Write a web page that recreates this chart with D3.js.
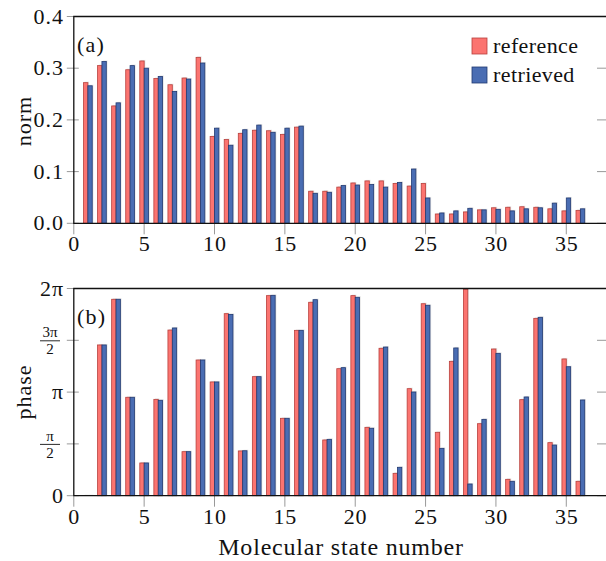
<!DOCTYPE html>
<html>
<head>
<meta charset="utf-8">
<script src="https://cdnjs.cloudflare.com/ajax/libs/d3/7.8.5/d3.min.js"></script>
<style>
  body { margin: 0; background: #fff; }
</style>
</head>
<body>
<div id="chart"></div>
<script>
// molecular state numbers 1..36
const states = d3.range(1, 37)

// panel (a): norm
const normRef = [0.272, 0.305, 0.227, 0.297, 0.314, 0.280, 0.268, 0.281, 0.321, 0.168,
  0.162, 0.174, 0.180, 0.179, 0.172, 0.186, 0.062, 0.062, 0.070, 0.078,
  0.082, 0.082, 0.077, 0.072, 0.077, 0.018, 0.018, 0.022, 0.026, 0.030,
  0.031, 0.032, 0.031, 0.028, 0.024, 0.025]
const normRet = [0.266, 0.313, 0.233, 0.305, 0.300, 0.284, 0.255, 0.279, 0.310, 0.184,
  0.151, 0.181, 0.190, 0.176, 0.184, 0.188, 0.058, 0.060, 0.073, 0.074,
  0.075, 0.070, 0.079, 0.105, 0.049, 0.020, 0.024, 0.029, 0.026, 0.027,
  0.024, 0.028, 0.030, 0.039, 0.049, 0.028]

// panel (b): phase, in units of pi
const phaseRef = [0, 1.455, 1.896, 0.950, 0.316, 0.930, 1.599, 0.425, 1.310, 1.098,
  1.757, 0.432, 1.149, 1.931, 0.747, 1.596, 1.867, 0.538, 1.226, 1.931,
  0.660, 1.423, 0.216, 1.033, 1.853, 0.612, 1.297, 1.990, 0.695, 1.416,
  0.158, 0.927, 1.712, 0.512, 1.320, 0.139]
const phaseRet = [0, 1.455, 1.896, 0.950, 0.316, 0.921, 1.619, 0.425, 1.310, 1.098,
  1.750, 0.434, 1.149, 1.934, 0.747, 1.596, 1.892, 0.544, 1.236, 1.915,
  0.651, 1.435, 0.274, 1.001, 1.838, 0.457, 1.426, 0.113, 0.737, 1.374,
  0.139, 0.953, 1.722, 0.489, 1.245, 0.924]

const xTicks = [0, 5, 10, 15, 20, 25, 30, 35]
const normTicks = [0, 0.1, 0.2, 0.3, 0.4]
const phaseTicks = [0, 0.5, 1, 1.5, 2]
const seriesNames = ["reference", "retrieved"]

const width = 606
const height = 561
const serif = "'Liberation Serif', 'DejaVu Serif', serif"
const colors = { fill: ["#fb7470", "#4a6db3"], stroke: ["#b8403c", "#223a72"] }

const svg = d3.select("#chart").append("svg")
  .attr("width", width)
  .attr("height", height)
  .style("font-family", serif)

const x = d3.scaleLinear().domain([0, 38]).range([73.8, 608.5])
const yNorm = d3.scaleLinear().domain([0, 0.4]).range([223.3, 16.5])
const yPhase = d3.scaleLinear().domain([0, 2]).range([495.7, 288.5])

const barW = x(0.31) - x(0)

// small helper so every label gets the serif font
// (the original is Computer Modern, which runs wider, hence the spacing)
function label(g, txt, size, spacing) {
  return g.append("text").attr("font-family", serif).attr("fill", "#111")
    .style("font-size", size + "px")
    .style("letter-spacing", (spacing || 0) + "px")
    .text(txt)
}

// draws one panel: frame, ticks, bars
function drawPanel(y, ref, ret, yTickVals, yTickFmt, tag, yTitle, titleY) {
  const g = svg.append("g")
  const top = y.range()[1], bottom = y.range()[0]

  // gray ticks
  g.selectAll(".xt").data(xTicks).join("line")
    .attr("x1", d => x(d)).attr("x2", d => x(d))
    .attr("y1", bottom).attr("y2", bottom + 11)
    .attr("stroke", "#999").attr("stroke-width", 1)
  g.selectAll(".ytl").data(yTickVals).join("line")
    .attr("x1", x(0) - 7).attr("x2", x(0) + 5)
    .attr("y1", d => y(d)).attr("y2", d => y(d))
    .attr("stroke", "#999").attr("stroke-width", 1)
  g.selectAll(".ytr").data(yTickVals).join("line")
    .attr("x1", 597).attr("x2", width)
    .attr("y1", d => y(d)).attr("y2", d => y(d))
    .attr("stroke", "#999").attr("stroke-width", 1)

  // bars with a faint shadow
  const pairs = [ref, ret]
  pairs.forEach((vals, k) => {
    const off = k == 0 ? -barW : 0
    g.selectAll(".sh" + k).data(states).join("rect")
      .attr("x", d => x(d) + off + 1.2)
      .attr("y", (d, i) => y(vals[i]) - 1)
      .attr("width", barW)
      .attr("height", (d, i) => bottom - y(vals[i]) + 1)
      .attr("fill", "#ccc").attr("opacity", 0.5)
    g.selectAll(".b" + k).data(states).join("rect")
      .attr("x", d => x(d) + off)
      .attr("y", (d, i) => y(vals[i]))
      .attr("width", barW)
      .attr("height", (d, i) => bottom - y(vals[i]))
      .attr("fill", colors.fill[k])
      .attr("stroke", colors.stroke[k])
      .attr("stroke-width", 0.8)
  })

  // frame: left, top, bottom
  g.append("path")
    .attr("d", `M${width},${top}H${x(0)}V${bottom}H${width}`)
    .attr("fill", "none").attr("stroke", "#111").attr("stroke-width", 1.3)

  // x tick labels
  xTicks.forEach(t => {
    label(g, t, 22, 0.8).attr("x", x(t) + 0.4).attr("y", bottom + 28).attr("text-anchor", "middle")
  })

  yTickFmt(g)

  label(g, tag, 22, 1.2).attr("x", 77).attr("y", top + 35)

  label(g, yTitle, 22, 1)
    .attr("transform", `translate(31,${titleY}) rotate(-90)`)
    .attr("text-anchor", "middle")
}

drawPanel(yNorm, normRef, normRet, normTicks, g => {
  normTicks.forEach(t => {
    label(g, t.toFixed(1), 22, 1).attr("x", 64).attr("y", yNorm(t) + 7).attr("text-anchor", "end")
  })
}, "(a)", "norm", 121)

drawPanel(yPhase, phaseRef, phaseRet, phaseTicks, g => {
  // whole multiples of pi
  const plain = { 0: "0", 1: "π", 2: "2π" }
  phaseTicks.filter(d => plain[d] != undefined).forEach(t => {
    label(g, plain[t], 22, 1).attr("x", 64).attr("y", yPhase(t) + 7).attr("text-anchor", "end")
  })
  // fractions
  const frac = [{ v: 0.5, num: "π" }, { v: 1.5, num: "3π" }]
  frac.forEach(f => {
    const fg = g.append("g").attr("transform", `translate(50,${yPhase(f.v)})`)
    label(fg, f.num, 15).attr("y", -3).attr("text-anchor", "middle")
    fg.append("line").attr("x1", -10).attr("x2", 10)
      .attr("y1", 0.5).attr("y2", 0.5)
      .attr("stroke", "#111").attr("stroke-width", 0.9)
    label(fg, "2", 15).attr("y", 14).attr("text-anchor", "middle")
  })
}, "(b)", "phase", 392)

// legend
const legend = svg.append("g").attr("transform", "translate(472,38)")
seriesNames.forEach((name, k) => {
  legend.append("rect")
    .attr("x", 0).attr("y", k * 29)
    .attr("width", 15).attr("height", 16)
    .attr("fill", colors.fill[k]).attr("stroke", colors.stroke[k]).attr("stroke-width", 0.8)
  label(legend, name, 22, 0.4).attr("x", 21).attr("y", k * 29 + 15)
})

// x axis title
label(svg, "Molecular state number", 24, 0.8)
  .attr("x", 341).attr("y", 555)
  .attr("text-anchor", "middle")
</script>
</body>
</html>
